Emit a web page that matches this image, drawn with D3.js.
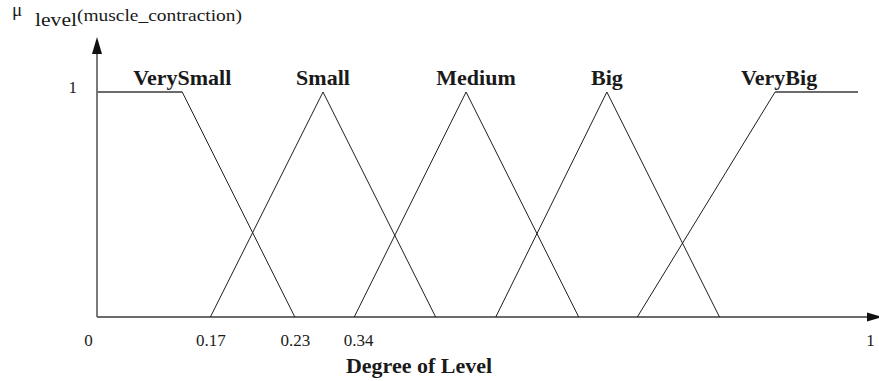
<!DOCTYPE html>
<html>
<head>
<meta charset="utf-8">
<script src="https://cdn.jsdelivr.net/npm/d3@7"></script>
<style>
  html, body { margin: 0; padding: 0; background: #fff; }
  svg { display: block; }
  text { font-family: "Liberation Serif", "Times New Roman", serif; fill: #1a1a1a; }
</style>
</head>
<body>
<svg id="chart" width="879" height="381"></svg>
<script>
// ---- data (membership function breakpoints: [degree, membership]) ----
const categories = ["VerySmall", "Small", "Medium", "Big", "VeryBig"];
const verySmall = [[0, 1], [0.112, 1], [0.260, 0]];
const small     = [[0.149, 0], [0.297, 1], [0.445, 0]];
const medium    = [[0.338, 0], [0.485, 1], [0.633, 0]];
const big       = [[0.524, 0], [0.670, 1], [0.818, 0]];
const veryBig   = [[0.710, 0], [0.891, 1], [1, 1]];
const series = [verySmall, small, medium, big, veryBig];
const xTickLabels = ["0", "0.17", "0.23", "0.34", "1"];
const xTickValues = [0, small[0][0], verySmall[2][0], medium[0][0], 1];
const yTickValues = [1];
const yTickLabels = ["1"];
const xTitle = "Degree of Level";

// ---- layout ----
const svg = d3.select("#chart");
const x = d3.scaleLinear().domain([0, 1]).range([97, 858]);
const y = d3.scaleLinear().domain([0, 1]).range([317, 92]);
const axisColor = "#6b6b6b";
const lineColor = "#1e1e1e";

// axes lines with arrows
svg.append("line")
  .attr("x1", x(0)).attr("y1", y(0)).attr("x2", x(0)).attr("y2", 50)
  .attr("stroke", axisColor).attr("stroke-width", 1.8);
svg.append("path")
  .attr("d", `M${x(0)},37 L${x(0) - 5},54 L${x(0) + 5},54 Z`)
  .attr("fill", "#111");
svg.append("line")
  .attr("x1", x(0)).attr("y1", y(0)).attr("x2", 870).attr("y2", y(0))
  .attr("stroke", axisColor).attr("stroke-width", 1.8);
svg.append("path")
  .attr("d", `M882,${y(0)} L867,${y(0) - 4.5} L867,${y(0) + 4.5} Z`)
  .attr("fill", "#111");

// membership functions
series.forEach(pts => {
  for (let i = 0; i < pts.length - 1; i++) {
    const a = pts[i], b = pts[i + 1];
    const flat = a[1] === b[1];
    svg.append("line")
      .attr("x1", x(a[0])).attr("y1", y(a[1]))
      .attr("x2", x(b[0])).attr("y2", y(b[1]))
      .attr("stroke", flat ? axisColor : lineColor)
      .attr("stroke-width", flat ? 1.8 : 1);
  }
});

// category labels
const labelDx = { Medium: 10, VeryBig: 4 };
categories.forEach((c, i) => {
  const p = series[i][1];
  svg.append("text")
    .attr("x", x(p[0]) + (labelDx[c] || 0))
    .attr("y", 85)
    .attr("text-anchor", "middle")
    .attr("font-weight", "bold")
    .attr("font-size", 22)
    .text(c);
});

// x axis ticks (labels only)
const xAxis = d3.axisBottom(x)
  .tickValues(xTickValues)
  .tickFormat((d, i) => xTickLabels[i])
  .tickSize(0);
const gx = svg.append("g").attr("transform", `translate(0,${y(0)})`).call(xAxis);
gx.select(".domain").remove();
const xLabelDx = [-9, 0, 0, 4, 12];
gx.selectAll(".tick text")
  .attr("y", 29).attr("dy", 0)
  .attr("dx", (d, i) => xLabelDx[i])
  .attr("font-size", 17)
  .attr("font-family", "Liberation Serif")
  .attr("fill", "#1a1a1a");

// y axis tick
const yAxis = d3.axisLeft(y)
  .tickValues(yTickValues)
  .tickFormat((d, i) => yTickLabels[i])
  .tickSize(0);
const gy = svg.append("g").attr("transform", `translate(${x(0)},0)`).call(yAxis);
gy.select(".domain").remove();
gy.selectAll(".tick text")
  .attr("x", -20).attr("dy", 0)
  .attr("font-size", 17)
  .attr("font-family", "Liberation Serif")
  .attr("fill", "#1a1a1a");

// x title
svg.append("text")
  .attr("x", 419).attr("y", 373)
  .attr("text-anchor", "middle")
  .attr("font-weight", "bold")
  .attr("font-size", 22)
  .text(xTitle);

// y label: μ level(muscle_contraction)
svg.append("text").attr("x", 12).attr("y", 16).attr("font-size", 19)
  .attr("font-family", "DejaVu Serif").text("\u03BC");
svg.append("text").attr("x", 35).attr("y", 26).attr("font-size", 19)
  .attr("textLength", 42).attr("lengthAdjust", "spacingAndGlyphs").text("level");
svg.append("text").attr("x", 77).attr("y", 21).attr("font-size", 17)
  .attr("textLength", 165).attr("lengthAdjust", "spacingAndGlyphs").text("(muscle_contraction)");
</script>
</body>
</html>
